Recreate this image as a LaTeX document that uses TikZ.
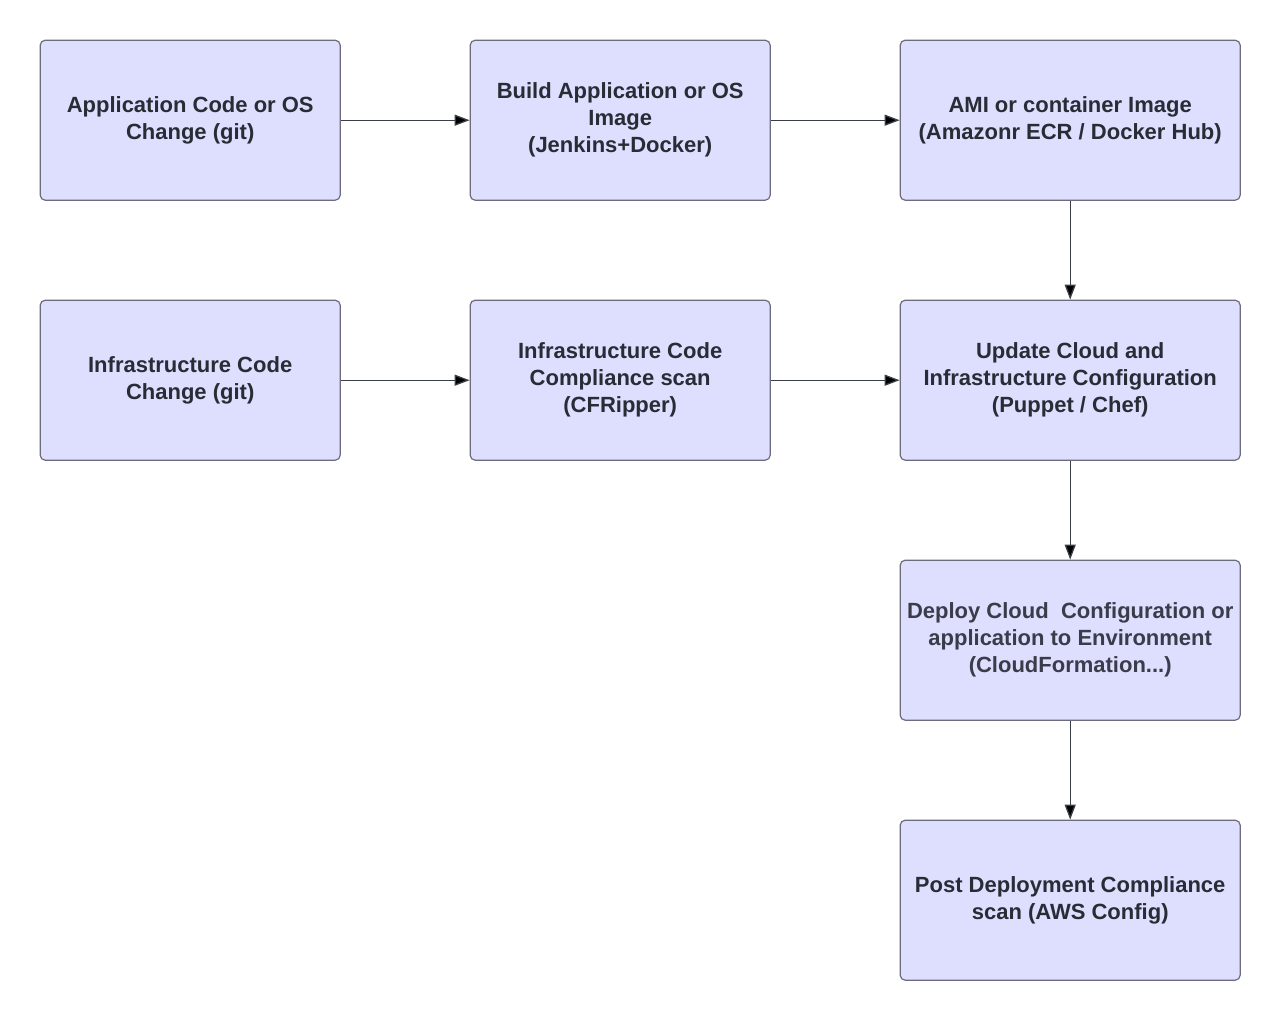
\documentclass[tikz,border=0pt]{standalone}
\usepackage{fontspec}
\setmainfont{Liberation Sans}
\usepackage{xcolor}
\usetikzlibrary{matrix,arrows.meta}
\definecolor{boxfill}{HTML}{DEDEFF}
\definecolor{boxline}{HTML}{6C6C7C}
\definecolor{textdark}{HTML}{282C34}
\definecolor{textsoft}{HTML}{3A3C4A}
\definecolor{arrowline}{HTML}{3A3E48}

\begin{document}
\begin{tikzpicture}[x=1pt,y=1pt,
    stage/.style={draw=boxline,line width=1.2pt,fill=boxfill,rounded corners=5pt,
      minimum width=300pt,minimum height=160pt,align=center,text=textdark,
      font=\fontsize{22}{27}\selectfont\bfseries},
    wide/.style={stage,minimum width=340pt},
    flow/.style={draw=arrowline,line width=1.3pt,-{Triangle[length=15pt,width=11pt]}}]
  \useasboundingbox (0,0) rectangle (1280,-1020);
  \matrix (m) [anchor=north west,inner sep=0pt,row sep=98.8pt,column sep=128.8pt] at (39.4,-39.4)
  {
      \node[stage] (appcode) {Application Code or OS\\Change (git)}; &
      \node[stage] (build) {Build Application or OS\\Image\\(Jenkins+Docker)}; &
      \node[wide] (image) {AMI or container Image\\(Amazonr ECR / Docker Hub)}; \\
      \node[stage] (infracode) {Infrastructure Code\\Change (git)}; &
      \node[stage] (cfscan) {Infrastructure Code\\Compliance scan\\(CFRipper)}; &
      \node[wide] (update) {Update Cloud and\\Infrastructure Configuration\\(Puppet / Chef)}; \\
      & &
      \node[wide,text=textsoft] (deploy) {Deploy Cloud\ \ Configuration or\\application to Environment\\(CloudFormation...)}; \\
      & &
      \node[wide] (postscan) {Post Deployment Compliance\\scan (AWS Config)}; \\
  };
  \path[flow]
    (appcode) edge (build)
    (build) edge (image)
    (infracode) edge (cfscan)
    (cfscan) edge (update);
  \path[flow]
    (image) edge (update)
    (update) edge (deploy)
    (deploy) edge (postscan);
\end{tikzpicture}
\end{document}
